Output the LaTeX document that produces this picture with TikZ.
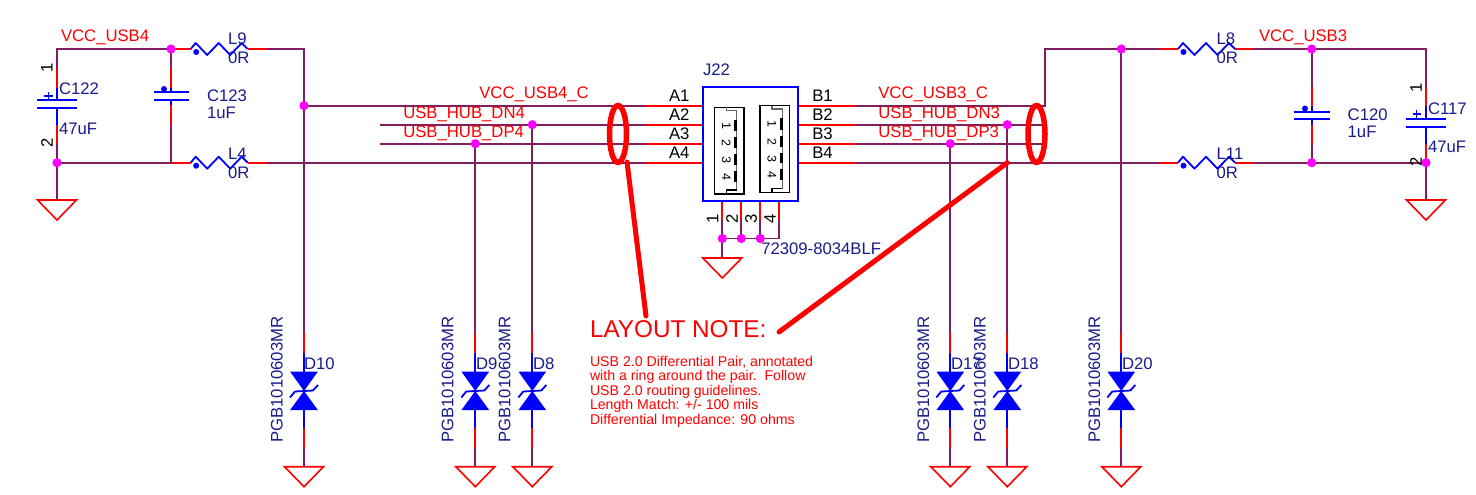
\documentclass[tikz,border=0pt]{standalone}
\usepackage{fontspec}
\setmainfont{Liberation Sans}
\definecolor{netc}{HTML}{7F1F5F}
\definecolor{partc}{HTML}{1A1A8C}
\definecolor{padc}{HTML}{FF00FF}
\tikzset{
  wire/.style={draw=netc,line width=1.8pt},
  pinr/.style={draw=red,line width=1.7pt},
  pinb/.style={draw=blue,line width=1.7pt},
  sym/.style={draw=blue,line width=1.8pt,line join=round},
  gndsym/.style={draw=red,line width=1.6pt,line join=miter},
  junction/.style={fill=padc},
  ringmark/.style={draw=red,line width=5.5pt},
  notemark/.style={draw=red,line width=5pt,line cap=round},
  txt/.style={anchor=base west,inner sep=0pt,outer sep=0pt,font=\fontsize{16.7}{18}\selectfont},
  netlbl/.style={txt,text=red},
  partlbl/.style={txt,text=partc},
  pinlbl/.style={txt,text=black},
  pinnum/.style={anchor=center,inner sep=0pt,text=black,rotate=90,font=\fontsize{16.7}{18}\selectfont},
  usbnum/.style={anchor=center,inner sep=0pt,text=black,rotate=-90,font=\fontsize{12.5}{13}\selectfont},
}
\newcommand{\junc}[1]{\fill[junction] (#1) circle [radius=4.6pt];}
\newcommand{\gndsymbol}[3]{%
  \coordinate (#1) at (#2,#3);
  \begin{scope}[shift={(#2,#3)}]\draw[gndsym] (-19.5,0) -- (19.5,0) -- (0,20) -- cycle;\end{scope}}
\newcommand{\resis}[3]{% name, x of zigzag start, y
  \coordinate (#1-l) at (#2-19,#3);
  \coordinate (#1-r) at (#2+76,#3);
  \begin{scope}[shift={(#2,#3)}]
    \draw[pinr] (-19,0) -- (0,0);
    \draw[pinr] (57,0) -- (76,0);
    \draw[sym] (0,0) -- (5,-6) -- (16.5,6) -- (28,-6) -- (39.5,6) -- (51,-6) -- (57,0);
    \fill[blue] (5.5,3) circle [radius=3pt];
  \end{scope}}
\newcommand{\tvs}[2]{%
  \coordinate (#1-a) at (#2,333);
  \coordinate (#1-k) at (#2,448);
  \begin{scope}[shift={(#2,0)}]
    \draw[pinr] (0,333) -- (0,353);
    \draw[pinb] (0,353) -- (0,372);
    \fill[blue] (-13.8,371.7) -- (13.8,371.7) -- (0,391) -- cycle;
    \fill[blue] (-13.8,410) -- (13.8,410) -- (0,391) -- cycle;
    \draw[sym] (-14,397.5) -- (-9,391.5) -- (9,390.5) -- (14,385);
    \draw[pinb] (0,410) -- (0,428);
    \draw[pinr] (0,428) -- (0,448);
  \end{scope}}
\newcommand{\usbbody}[2]{%
  \begin{scope}[shift={(#1,#2)}]
    \draw[black,line width=1.2pt] (0,0) rectangle (29.7,86.7);
    \draw[black!60,line width=1.1pt] (12,0) -- (12,3.3) -- (22.3,3.3) -- (22.3,82.7) -- (12,82.7) -- (12,86.7);
    \draw[black,line width=1.6pt] (12,86) -- (12,82.7) -- (22.3,82.7);
    \foreach \a/\b in {12.7/24,30/41,47/57.7,63.7/74.3}
      \fill[black] (20,\a) rectangle (22.8,\b);
  \end{scope}}
\begin{document}
\begin{tikzpicture}[x=1pt,y=-1pt]
\useasboundingbox (0,0) rectangle (1476,495);
% ----- named points of the nets
\coordinate (tl) at (57,49);
\coordinate (jc123t) at (171,49);
\coordinate (jc122b) at (57,162.7);
\coordinate (c123b) at (171,162.7);
\coordinate (tlr) at (304,49);
\coordinate (j1) at (304,105.7);
\coordinate (d8j) at (532.3,124.7);
\coordinate (d9j) at (475.3,143.7);
\coordinate (A1) at (703,105.7);
\coordinate (A2) at (703,124.7);
\coordinate (A3) at (703,143.7);
\coordinate (A4) at (703,162.7);
\coordinate (B1) at (798,105.7);
\coordinate (B2) at (798,124.7);
\coordinate (B3) at (798,143.7);
\coordinate (B4) at (798,162.7);
\coordinate (d18j) at (1007.3,124.7);
\coordinate (d17j) at (950.3,143.7);
\coordinate (tb1) at (1045,105.7);
\coordinate (tb2) at (1045,49);
\coordinate (jd20) at (1121.3,49);
\coordinate (jc120t) at (1311.7,49);
\coordinate (jc120b) at (1311.7,162.7);
\coordinate (tr) at (1426,49);
\coordinate (jc117b) at (1426,162.7);
\coordinate (e2) at (1046,124.7);
\coordinate (e3) at (1046,143.7);
\coordinate (s2) at (380,124.7);
\coordinate (s3) at (380,143.7);
% ----- symbols that carry stubs
\resis{L9}{190.7}{49}
\resis{L4}{190.7}{162.7}
\resis{L8}{1178}{49}
\resis{L11}{1178}{162.7}
\tvs{D10}{304}
\tvs{D9}{475.3}
\tvs{D8}{532.3}
\tvs{D17}{950.3}
\tvs{D18}{1007.3}
\tvs{D20}{1121.3}
\gndsymbol{g1}{57}{200}
\gndsymbol{g2}{1426}{200}
\gndsymbol{g3}{722.3}{258}
\gndsymbol{g10}{304}{466.7}
\gndsymbol{g9}{475.3}{466.7}
\gndsymbol{g8}{532.3}{466.7}
\gndsymbol{g17}{950.3}{466.7}
\gndsymbol{g18}{1007.3}{466.7}
\gndsymbol{g20}{1121.3}{466.7}
% ----- nets
\draw[wire] (57,68) -- (tl) -- (L9-l);
\draw[wire] (L9-r) -- (tlr) -- (D10-a);
\draw[wire] (D10-k) -- (g10);
\draw[wire] (j1) -- (646,105.7);
\draw[wire] (s2) -- (646,124.7);
\draw[wire] (s3) -- (646,143.7);
\draw[wire] (L4-r) -- (646,162.7);
\draw[wire] (57,144) -- (g1);
\draw[wire] (jc122b) -- (L4-l);
\draw[wire] (jc123t) -- (171,68);
\draw[wire] (171,125) -- (c123b);
\draw[wire] (d9j) -- (D9-a);
\draw[wire] (D9-k) -- (g9);
\draw[wire] (d8j) -- (D8-a);
\draw[wire] (D8-k) -- (g8);
\draw[wire] (856,105.7) -- (tb1) -- (tb2) -- (L8-l);
\draw[wire] (856,124.7) -- (e2);
\draw[wire] (856,143.7) -- (e3);
\draw[wire] (856,162.7) -- (L11-l);
\draw[wire] (L8-r) -- (tr) -- (1426,87);
\draw[wire] (L11-r) -- (jc117b) -- (g2);
\draw[wire] (jc120t) -- (1311.7,87);
\draw[wire] (1311.7,144) -- (jc120b);
\draw[wire] (jd20) -- (D20-a);
\draw[wire] (D20-k) -- (g20);
\draw[wire] (d17j) -- (D17-a);
\draw[wire] (D17-k) -- (g17);
\draw[wire] (d18j) -- (D18-a);
\draw[wire] (D18-k) -- (g18);
% ----- connector bottom
\foreach \n/\x in {1/722.3,2/741.3,3/760.3,4/779.3}{
  \coordinate (P\n) at (\x,200.7);
  \coordinate (Q\n) at (\x,238.5);
  \draw[wire] (\x,220) -- (Q\n);
  \draw[pinr] (P\n) -- (\x,220);
}
\draw[wire] (Q1) -- (Q4);
\draw[wire] (Q1) -- (g3);
% ----- pin stubs
\foreach \n/\y in {1/105.7,2/124.7,3/143.7,4/162.7}{
  \draw[pinr] (A\n) -- (646,\y);
  \draw[pinr] (B\n) -- (856,\y);
}
% ----- capacitors
\draw[pinr] (57,68) -- (57,88);
\draw[pinb] (57,88) -- (57,100);
\draw[pinb] (57,108) -- (57,125);
\draw[pinr] (57,125) -- (57,144);
\draw[sym] (37,100) -- (77,100);
\draw[sym] (37,108) -- (77,108);
\draw[pinb,line width=1.4pt] (44,96) -- (52.5,96);
\draw[pinb,line width=1.4pt] (48.3,92) -- (48.3,100);
\draw[pinr] (171,68) -- (171,88);
\draw[pinb] (171,88) -- (171,92);
\draw[pinb] (171,100) -- (171,105);
\draw[pinr] (171,105) -- (171,125);
\draw[sym] (153.5,92) -- (188.5,92);
\draw[sym] (153.5,100) -- (188.5,100);
\fill[blue] (164,89) circle [radius=3pt];
\draw[pinr] (1311.7,87) -- (1311.7,106);
\draw[pinb] (1311.7,106) -- (1311.7,111.7);
\draw[pinb] (1311.7,119) -- (1311.7,125);
\draw[pinr] (1311.7,125) -- (1311.7,144);
\draw[sym] (1294,111.7) -- (1330,111.7);
\draw[sym] (1294,119) -- (1330,119);
\fill[blue] (1305,108.5) circle [radius=3pt];
\draw[pinr] (1426,87) -- (1426,106);
\draw[pinb] (1426,106) -- (1426,119);
\draw[pinb] (1426,127) -- (1426,144);
\draw[pinr] (1426,144) -- (1426,160);
\draw[sym] (1406,119) -- (1446,119);
\draw[sym] (1406,127) -- (1446,127);
\draw[pinb,line width=1.4pt] (1412.5,114) -- (1421,114);
\draw[pinb,line width=1.4pt] (1416.7,110) -- (1416.7,118);
% ----- connector body
\node[draw=blue,line width=1.7pt,minimum width=95pt,minimum height=114pt,inner sep=0pt,anchor=north west,outer sep=0pt] (J22) at (703,86.7) {};
\usbbody{714.3}{107.3}
\usbbody{760}{105.7}
\foreach \i/\yy in {1/125.5,2/143,3/160,4/176.5}{
  \node[usbnum] (ul\i) at (726.3,\yy) {\i};
}
\foreach \i/\yy in {1/124,2/141.5,3/158.5,4/175}{
  \node[usbnum] (ur\i) at (772,\yy) {\i};
}
% ----- junction dots
\foreach \p in {jc123t,jc122b,j1,d8j,d9j,d18j,d17j,jd20,jc120t,jc120b,jc117b,Q1,Q2,Q3}{\junc{\p}}
% ----- annotation
\draw[ringmark] (618,134) ellipse [x radius=8.5pt,y radius=28.5pt];
\draw[ringmark] (1036.5,134) ellipse [x radius=8.5pt,y radius=28.5pt];
\coordinate (n1a) at (627,162);
\coordinate (n1b) at (646,316);
\coordinate (n2a) at (1007.3,162.7);
\coordinate (n2b) at (779,332);
\draw[notemark] (n1a) -- (n1b);
\draw[notemark] (n2a) -- (n2b);
% ----- text
\node[netlbl] (t1) at (61,41.5) {VCC\_USB4};
\node[netlbl] (t2) at (1259,41.5) {VCC\_USB3};
\node[netlbl] (t3) at (479.3,98.3) {VCC\_USB4\_C};
\node[netlbl] (t4) at (403.3,118.3) {USB\_HUB\_DN4};
\node[netlbl] (t5) at (403.3,137.3) {USB\_HUB\_DP4};
\node[netlbl] (t6) at (878.3,98.3) {VCC\_USB3\_C};
\node[netlbl] (t7) at (878.3,118.3) {USB\_HUB\_DN3};
\node[netlbl] (t8) at (878.3,137.3) {USB\_HUB\_DP3};
\node[partlbl] (t9) at (228,45) {L9};
\node[partlbl] (t10) at (228,64) {0R};
\node[partlbl] (t11) at (228,159) {L4};
\node[partlbl] (t12) at (228,178) {0R};
\node[partlbl] (t13) at (1216.7,45) {L8};
\node[partlbl] (t14) at (1216.7,64) {0R};
\node[partlbl] (t15) at (1216.7,159) {L11};
\node[partlbl] (t16) at (1216.7,178) {0R};
\node[partlbl] (t17) at (59,95) {C122};
\node[partlbl] (t18) at (59,135) {47uF};
\node[partlbl] (t19) at (207,102) {C123};
\node[partlbl] (t20) at (207,118) {1uF};
\node[partlbl] (t21) at (1347.7,121) {C120};
\node[partlbl] (t22) at (1347.7,137) {1uF};
\node[partlbl] (t23) at (1428,114) {C117};
\node[partlbl] (t24) at (1428,152) {47uF};
\node[partlbl] (t25) at (703,75.7) {J22};
\node[partlbl] (t26) at (761.3,254) {72309-8034BLF};
\foreach \i/\yy in {1/101.7,2/120.7,3/139.7,4/158.7}{
  \node[pinlbl] (ta\i) at (669,\yy) {A\i};
  \node[pinlbl] (tb\i) at (812.3,\yy) {B\i};
}
\foreach \i/\xx in {1/712.5,2/732,3/751,4/770}{
  \node[pinnum] (tp\i) at (\xx,219) {\i};
}
\node[pinnum] (tc1) at (47,68) {1};
\node[pinnum] (tc2) at (47,143) {2};
\node[pinnum] (td1) at (1416,87.7) {1};
\node[pinnum] (td2) at (1416,161.7) {2};
\foreach \nm/\bx/\lx in {D10/282.7/304,D9/453.3/476,D8/510.3/533,D17/929/951,D18/985.7/1008,D20/1100/1122}{
  \node[partlbl,rotate=90] (v\nm) at (\bx,442.7) {PGB1010603MR};
  \node[partlbl] (l\nm) at (\lx,369.3) {\nm};
}
\node[netlbl,font=\fontsize{24.3}{28}\selectfont] (t30) at (590,337.7) {LAYOUT NOTE:};
\node[netlbl,font=\fontsize{14.15}{14.4}\selectfont] (n1) at (590,366) {USB 2.0 Differential Pair, annotated};
\node[netlbl,font=\fontsize{14.15}{14.4}\selectfont] (n2) at (590,380.3) {with a ring around the pair.\ \ Follow};
\node[netlbl,font=\fontsize{14.15}{14.4}\selectfont] (n3) at (590,395) {USB 2.0 routing guidelines.};
\node[netlbl,font=\fontsize{14.15}{14.4}\selectfont] (n4) at (590,409.5) {Length Match: +/- 100 mils};
\node[netlbl,font=\fontsize{14.15}{14.4}\selectfont] (n5) at (590,424) {Differential Impedance: 90 ohms};
\end{tikzpicture}
\end{document}
